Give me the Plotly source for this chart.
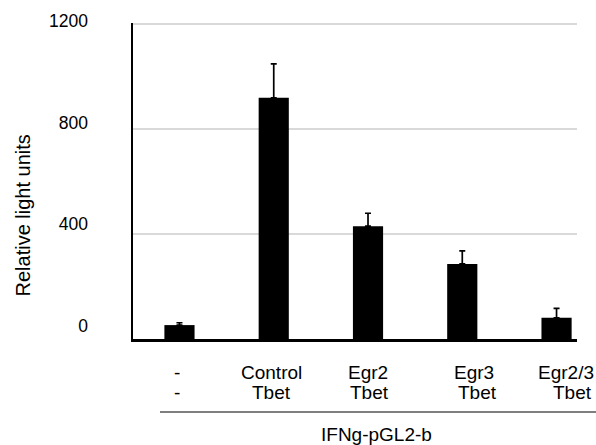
import plotly.graph_objects as go

# ---- data ----
categories = ["c1", "c2", "c3", "c4", "c5"]
label_line1 = ["-", "Control", "Egr2", "Egr3", "Egr2/3"]
label_line2 = ["-", "Tbet", "Tbet", "Tbet", "Tbet"]
values = [53, 919, 430, 286, 81]
errors = [9, 129, 49, 50, 36]
tick_vals = [0, 400, 800, 1200]
tick_text = ["0", "400", "800", "1200"]
y_title = "Relative light units"
group_label = "IFNg-pGL2-b"

# ---- layout geometry (pixels) ----
W, H = 596, 445
L, R, T, B = 133, 19, 12, 106
plot_w = W - L - R
plot_h = H - T - B
y_bot_px = H - B          # pixel of value 0
px_per_unit = 105.0 / 400.0
y_max = 1204              # slightly above 1200 so the top gridline is drawn
bar_dom_top = (y_max * px_per_unit) / plot_h

FONT = "Liberation Sans, Arial, sans-serif"
fs_tick = 17.5
fs_lab = 19
fs_title = 20

fig = go.Figure()
fig.add_trace(go.Bar(
    x=categories, y=values,
    marker=dict(color="black", line=dict(width=0)),
    width=0.32,
    error_y=dict(type="data", symmetric=False, array=errors,
                 arrayminus=[0] * len(errors), color="black",
                 thickness=1.7, width=3),
    showlegend=False, hoverinfo="skip",
))
# helper invisible trace for the tick-label axis
fig.add_trace(go.Scatter(x=[categories[0]], y=[0], yaxis="y2", mode="markers",
                         marker=dict(opacity=0), showlegend=False, hoverinfo="skip"))

# label axis range so that labels sit as in the reference (slightly compressed)
k = 101.7 / 400.0   # px per unit for the labels
a = -(y_bot_px - 326) / k
b = a + plot_h / k

fig.update_layout(
    width=W, height=H,
    margin=dict(l=L, r=R, t=T, b=B),
    paper_bgcolor="white", plot_bgcolor="rgba(0,0,0,0)",
    font=dict(family=FONT, size=fs_lab, color="black"),
    bargap=0.68,
    xaxis=dict(type="category", range=[-0.493, 4.217],
               showticklabels=False, ticks="", showgrid=False,
               showline=True, linecolor="black", linewidth=2.5,
               zeroline=False, fixedrange=True),
    yaxis=dict(domain=[0, bar_dom_top], range=[0, y_max],
               tickvals=tick_vals, showticklabels=False, ticks="",
               showgrid=True, gridcolor="#d9d9d9", gridwidth=1.5,
               showline=True, linecolor="black", linewidth=2,
               zeroline=False),
    yaxis2=dict(domain=[0, 1], range=[a, b], anchor="x", side="left",
                tickvals=tick_vals, ticktext=tick_text,
                showgrid=False, showline=False, zeroline=False, ticks="",
                ticklabelstandoff=44, tickfont=dict(size=fs_tick, color="black")),
)

# category labels (two lines under each bar)
shift1 = [-2.5, -2.5, 0, 12, 9.5]
shift2 = [-2.5, -2.5, 1, 15, 15.5]
row1_px, row2_px = 372, 393
for c, l1, l2, d1, d2 in zip(categories, label_line1, label_line2, shift1, shift2):
    fig.add_annotation(x=c, xref="x", yref="paper", y=(y_bot_px - row1_px) / plot_h,
                       yanchor="middle", xshift=d1, showarrow=False,
                       text=l1, font=dict(size=fs_lab, color="black"))
    fig.add_annotation(x=c, xref="x", yref="paper", y=(y_bot_px - row2_px) / plot_h,
                       yanchor="middle", xshift=d2, showarrow=False,
                       text=l2, font=dict(size=fs_lab, color="black"))

# group line and label
fig.add_shape(type="line", xref="paper", yref="paper",
              x0=(160 - L) / plot_w, x1=(596 - L) / plot_w,
              y0=(y_bot_px - 412) / plot_h, y1=(y_bot_px - 412) / plot_h,
              line=dict(color="#555555", width=1.6))
fig.add_annotation(xref="paper", yref="paper",
                   x=(376 - L) / plot_w, y=(y_bot_px - 434) / plot_h,
                   xanchor="center", yanchor="middle", showarrow=False,
                   text=group_label, font=dict(size=fs_lab, color="black"))

# y-axis title
fig.add_annotation(xref="paper", yref="paper",
                   x=(22 - L) / plot_w, y=(y_bot_px - 215.5) / plot_h,
                   xanchor="center", yanchor="middle", showarrow=False,
                   textangle=-90, text=y_title, font=dict(size=fs_title, color="black"))

fig.write_html("out.html", config={"displayModeBar": False},
               post_script="document.body.style.margin='0';document.body.style.overflow='hidden';")
